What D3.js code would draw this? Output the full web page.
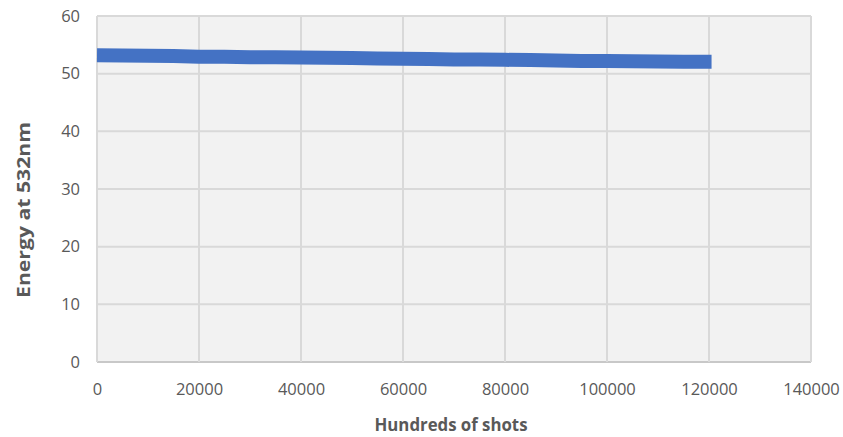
<!DOCTYPE html>
<html>
<head>
<meta charset="utf-8">
<script src="https://cdn.jsdelivr.net/npm/d3@7"></script>
<style>
  html, body { margin: 0; padding: 0; background: #ffffff; }
  svg { display: block; }
</style>
</head>
<body>
<svg id="chart" width="843" height="437"></svg>
<script>
// Pulse energy at 532 nm over the lifetime of the laser (x in hundreds of shots)
const shots  = [0, 5000, 10000, 15000, 20000, 25000, 30000, 35000, 40000, 45000,
                50000, 55000, 60000, 65000, 70000, 75000, 80000, 85000, 90000,
                95000, 100000, 105000, 110000, 115000, 120500];
const energy = [53.2, 53.15, 53.1, 53.05, 52.95, 52.95, 52.85, 52.85, 52.8, 52.75,
                52.7, 52.65, 52.6, 52.55, 52.45, 52.45, 52.4, 52.35, 52.3,
                52.2, 52.2, 52.15, 52.1, 52.05, 52.05];

const xTicks = [0, 20000, 40000, 60000, 80000, 100000, 120000, 140000];
const yTicks = [0, 10, 20, 30, 40, 50, 60];

const xTitle = "Hundreds of shots";
const yTitle = "Energy at 532nm";

const svg = d3.select("#chart");
const margin = { left: 97, right: 32, top: 16, bottom: 75 };
const W = 843, H = 437;
const plotW = W - margin.left - margin.right;
const plotH = H - margin.top - margin.bottom;

const x = d3.scaleLinear().domain([0, 140000]).range([0, plotW]);
const y = d3.scaleLinear().domain([0, 60]).range([plotH, 0]);

const font = "'Open Sans', 'Liberation Sans', sans-serif";
const textColor = "#595959";

const g = svg.append("g").attr("transform", `translate(${margin.left},${margin.top})`);

// plot area background
g.append("rect")
  .attr("width", plotW).attr("height", plotH)
  .attr("fill", "#f2f2f2");

// gridlines
g.append("g")
  .selectAll("line.h")
  .data(yTicks)
  .join("line")
  .attr("x1", 0).attr("x2", plotW)
  .attr("y1", d => y(d)).attr("y2", d => y(d))
  .attr("stroke", d => d === 0 ? "#c8c8c8" : "#d9d9d9")
  .attr("stroke-width", 2);

g.append("g")
  .selectAll("line.v")
  .data(xTicks)
  .join("line")
  .attr("y1", 0).attr("y2", plotH)
  .attr("x1", d => x(d)).attr("x2", d => x(d))
  .attr("stroke", "#d9d9d9")
  .attr("stroke-width", 2);

// axes (labels only; lines come from the grid)
const xAxis = g.append("g")
  .attr("transform", `translate(0,${plotH})`)
  .call(d3.axisBottom(x).tickValues(xTicks).tickFormat(d3.format("d")).tickSize(0).tickPadding(21));
const yAxis = g.append("g")
  .call(d3.axisLeft(y).tickValues(yTicks).tickFormat(d3.format("d")).tickSize(0).tickPadding(17));

[xAxis, yAxis].forEach(a => {
  a.select(".domain").remove();
  a.selectAll("text")
    .attr("fill", textColor)
    .style("font-family", font)
    .style("font-size", "16.5px");
});

// the data series: thick blue band
const line = d3.line()
  .x((d, i) => x(shots[i]))
  .y(d => y(d));

g.append("path")
  .datum(energy)
  .attr("d", line)
  .attr("fill", "none")
  .attr("stroke", "#4472c4")
  .attr("stroke-width", 14)
  .attr("stroke-linejoin", "round")
  .attr("stroke-linecap", "butt");

// axis titles (bold, horizontally condensed to a fixed run length)
svg.append("text")
  .attr("x", margin.left + x(70000) - 3)
  .attr("y", 431)
  .attr("text-anchor", "middle")
  .attr("fill", textColor)
  .attr("textLength", 153)
  .attr("lengthAdjust", "spacingAndGlyphs")
  .style("font-family", font)
  .style("font-weight", "bold")
  .style("font-size", "18px")
  .text(xTitle);

svg.append("text")
  .attr("transform", `translate(30,${210}) rotate(-90)`)
  .attr("text-anchor", "middle")
  .attr("fill", textColor)
  .attr("textLength", 176)
  .attr("lengthAdjust", "spacingAndGlyphs")
  .style("font-family", font)
  .style("font-weight", "bold")
  .style("font-size", "18px")
  .text(yTitle);
</script>
</body>
</html>
